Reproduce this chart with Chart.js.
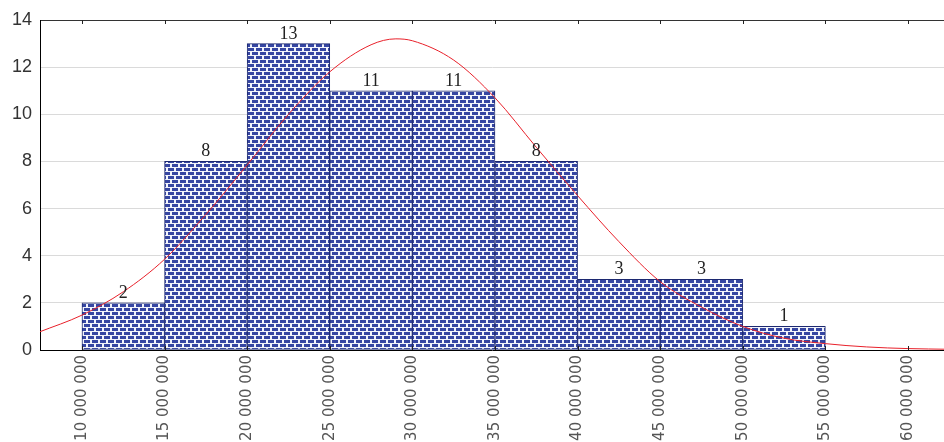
<!DOCTYPE html>
<html>
<head>
<meta charset="utf-8">
<script src="https://cdn.jsdelivr.net/npm/chart.js@4.4.1/dist/chart.umd.min.js"></script>
<style>
  html, body { margin: 0; padding: 0; background: #fff; }
  canvas { display: block; }
</style>
</head>
<body>
<canvas id="hist" width="944" height="442"></canvas>
<script>
// histogram bins (centre of each 5 000 000 bin) and counts
const binCenters = [12.5e6, 17.5e6, 22.5e6, 27.5e6, 32.5e6, 37.5e6, 42.5e6, 47.5e6, 52.5e6];
const counts = [2, 8, 13, 11, 11, 8, 3, 3, 1];

// fitted normal curve
const curveX = [7.4e6, 10e6, 12.5e6, 15e6, 17.5e6, 20e6, 22.5e6, 25e6, 27.5e6, 29e6, 30e6, 32.5e6,
  35e6, 37.5e6, 40e6, 42.5e6, 45e6, 47.5e6, 50e6, 52.5e6, 55e6, 57.5e6, 60e6, 62.5e6];
const curveY = [0.76, 1.48, 2.47, 3.85, 5.75, 7.85, 10.0, 11.8, 12.95, 13.2, 13.12, 12.3,
  10.7, 8.6, 6.55, 4.6, 2.9, 1.82, 1.0, 0.5, 0.27, 0.13, 0.06, 0.03];

const xTicks = [10e6, 15e6, 20e6, 25e6, 30e6, 35e6, 40e6, 45e6, 50e6, 55e6, 60e6];
const xMin = 7.46e6;
const xMax = 62.18e6;

function brickPattern() {
  const c = document.createElement('canvas');
  c.width = 8;
  c.height = 8;
  const p = c.getContext('2d');
  p.fillStyle = '#f2f4fb';
  p.fillRect(0, 0, 8, 8);
  p.fillStyle = '#3646a2';
  p.fillRect(0, 0, 6, 3);
  p.fillRect(4, 4, 4, 3);
  p.fillRect(0, 4, 2, 3);
  return p.createPattern(c, 'repeat');
}

function fmt(v) {
  return String(Math.round(v)).replace(/\B(?=(\d{3})+(?!\d))/g, ' ');
}

// counts above the bars and small inside ticks on the frame
const extras = {
  id: 'extras',
  afterDatasetsDraw(chart) {
    const ctx = chart.ctx;
    const meta = chart.getDatasetMeta(1);
    ctx.save();
    ctx.fillStyle = '#222';
    ctx.font = '18px "Liberation Serif", serif';
    ctx.textAlign = 'center';
    ctx.textBaseline = 'alphabetic';
    meta.data.forEach((bar, i) => {
      ctx.fillText(String(counts[i]), bar.x, bar.y - 5);
    });
    ctx.restore();
  },
  afterDraw(chart) {
    const ctx = chart.ctx;
    const area = chart.chartArea;
    const xs = chart.scales.x;
    ctx.save();
    ctx.strokeStyle = '#222';
    ctx.lineWidth = 1;
    ctx.beginPath();
    xTicks.forEach((v) => {
      const px = Math.round(xs.getPixelForValue(v)) + 0.5;
      ctx.moveTo(px, area.top);
      ctx.lineTo(px, area.top + 4);
      ctx.moveTo(px, area.bottom);
      ctx.lineTo(px, area.bottom - 4);
    });
    ctx.stroke();
    ctx.restore();
  },
};

new Chart(document.getElementById('hist'), {
  data: {
    datasets: [
      {
        type: 'line',
        data: curveX.map((x, i) => ({ x: x, y: curveY[i] })),
        borderColor: '#e8202a',
        borderWidth: 1,
        pointRadius: 0,
        cubicInterpolationMode: 'monotone',
        fill: false,
        order: 0,
      },
      {
        type: 'bar',
        data: binCenters.map((x, i) => ({ x: x, y: counts[i] })),
        backgroundColor: brickPattern(),
        borderColor: '#1c2870',
        borderWidth: 1,
        borderSkipped: false,
        barPercentage: 1,
        categoryPercentage: 1,
        order: 1,
      },
    ],
  },
  options: {
    responsive: false,
    animation: false,
    devicePixelRatio: 1,
    layout: { padding: { top: 20, left: 0, right: 0, bottom: 0 } },
    plugins: {
      legend: { display: false },
      tooltip: { enabled: false },
    },
    scales: {
      x: {
        type: 'linear',
        min: xMin,
        max: xMax,
        offset: false,
        afterBuildTicks: (scale) => {
          scale.ticks = xTicks.map((v) => ({ value: v }));
        },
        afterFit: (scale) => {
          scale.height = 92;
          scale.paddingLeft = 0;
          scale.paddingRight = 0;
        },
        grid: { display: true, drawOnChartArea: false, drawTicks: false },
        border: { display: true, color: '#000', width: 1 },
        ticks: {
          autoSkip: false,
          minRotation: 90,
          maxRotation: 90,
          padding: 5,
          color: '#555',
          font: { family: '"DejaVu Sans", sans-serif', size: 15 },
          callback: (v) => fmt(v),
        },
      },
      y: {
        min: 0,
        max: 14,
        afterFit: (scale) => {
          scale.width = 40;
        },
        grid: {
          drawTicks: false,
          color: (c) => (c.tick.value === 14 ? '#333' : (c.tick.value === 0 ? 'rgba(0,0,0,0)' : '#dadada')),
        },
        border: { display: true, color: '#000', width: 1 },
        ticks: {
          stepSize: 2,
          padding: 8,
          color: '#333',
          font: { family: '"Liberation Sans", Arial, sans-serif', size: 18 },
        },
      },
    },
  },
  plugins: [extras],
});
</script>
</body>
</html>
